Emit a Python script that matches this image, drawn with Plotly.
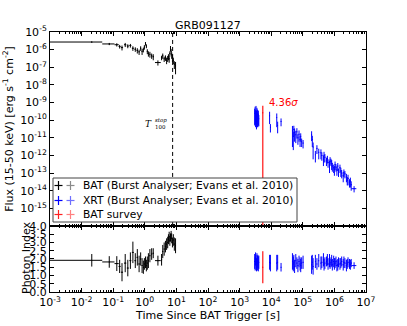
import plotly.graph_objects as go
from plotly.subplots import make_subplots
import math

title_text = "GRB091127"
t100_stop = 7.6
survey_sigma = 4.36

# ---------------- BAT (Burst Analyser) ----------------
bat_t = [0.021, 0.075, 0.13, 0.16, 0.19, 0.24, 0.29, 0.35, 0.42, 0.50,
         0.58, 0.66, 0.74, 0.82, 0.90, 0.97, 1.05, 1.12, 1.20, 1.30,
         1.45, 1.65, 1.85, 2.60, 3.40, 3.70, 4.10, 4.50, 4.90, 5.30,
         5.60, 5.90, 6.20, 6.50, 6.80, 7.10, 7.50, 8.00, 8.60, 9.40]
bat_tm = [0.020, 0.030, 0.02, 0.012, 0.015, 0.02, 0.02, 0.025, 0.03, 0.03,
          0.03, 0.03, 0.03, 0.03, 0.03, 0.03, 0.03, 0.03, 0.04, 0.05,
          0.05, 0.07, 0.08, 0.50, 0.15, 0.12, 0.15, 0.15, 0.15, 0.12,
          0.10, 0.10, 0.10, 0.10, 0.10, 0.10, 0.15, 0.20, 0.25, 0.30]
bat_tp = [0.024, 0.035, 0.02, 0.012, 0.015, 0.02, 0.02, 0.025, 0.03, 0.03,
          0.03, 0.03, 0.03, 0.03, 0.03, 0.03, 0.03, 0.03, 0.04, 0.05,
          0.05, 0.07, 0.08, 0.60, 0.15, 0.12, 0.15, 0.15, 0.15, 0.12,
          0.10, 0.10, 0.10, 0.10, 0.10, 0.10, 0.15, 0.20, 0.25, 0.30]
bat_flux = [2.7e-6, 2.1e-6, 1.9e-6, 1.5e-6, 1.3e-6, 1.9e-6, 1.6e-6, 1.7e-6, 1.2e-6, 1.05e-6,
            9.0e-7, 7.5e-7, 1.2e-6, 8.0e-7, 1.0e-6, 1.4e-6, 2.2e-6, 1.6e-6, 8.0e-7, 6.0e-7,
            5.5e-7, 4.5e-7, 4.0e-7, 1.85e-7, 3.5e-7, 4.5e-7, 3.0e-7, 3.5e-7, 2.5e-7, 3.2e-7,
            4.0e-7, 3.0e-7, 6.0e-7, 1.2e-6, 8.0e-7, 5.0e-7, 3.5e-7, 2.5e-7, 1.5e-7, 1.2e-7]
bat_ferr = [0.25e-6, 0.3e-6, 0.4e-6, 0.35e-6, 0.4e-6, 0.5e-6, 0.4e-6, 0.4e-6, 0.35e-6, 0.3e-6,
            0.3e-6, 0.25e-6, 0.35e-6, 0.3e-6, 0.3e-6, 0.4e-6, 0.5e-6, 0.4e-6, 0.25e-6, 0.2e-6,
            0.2e-6, 0.15e-6, 0.15e-6, 0.06e-6, 0.1e-6, 0.15e-6, 0.1e-6, 0.12e-6, 0.1e-6, 0.12e-6,
            0.15e-6, 0.12e-6, 0.2e-6, 0.4e-6, 0.3e-6, 0.2e-6, 0.15e-6, 0.1e-6, 0.07e-6, 0.08e-6]
bat_idx = [1.92, 1.82, 1.72, 1.55, 1.20, 1.75, 1.45, 1.90, 2.40, 1.90,
           2.10, 1.70, 2.00, 1.60, 1.50, 1.70, 1.80, 1.60, 1.75, 1.90,
           2.20, 2.30, 2.35, 1.90, 1.95, 2.45, 2.60, 2.75, 2.90, 3.00,
           3.20, 3.35, 3.10, 3.30, 3.45, 3.25, 3.00, 3.15, 2.90, 2.80]
bat_idxerr = [0.38, 0.35, 0.45, 0.40, 0.55, 0.55, 0.50, 0.50, 0.65, 0.45,
              0.50, 0.50, 0.40, 0.45, 0.40, 0.35, 0.35, 0.35, 0.40, 0.45,
              0.40, 0.35, 0.30, 0.30, 0.35, 0.40, 0.40, 0.35, 0.35, 0.35,
              0.30, 0.30, 0.30, 0.25, 0.25, 0.30, 0.30, 0.35, 0.40, 0.45]

# ---------------- XRT (Burst Analyser) ----------------
xrt_t = [3000, 3100, 3200, 3310, 3420, 3540, 3660, 3790, 3920, 4060,
         8900, 9450, 15000, 16000, 20500,
         47000, 50000, 52000, 55000, 60000, 65000, 70000, 76000, 82000, 86000,
         92000, 102000, 190000, 200000, 212000, 250000, 280000, 320000,
         375000, 400000, 450000, 470000, 500000, 560000, 600000, 630000, 700000, 730000,
         780000, 820000, 860000, 950000, 1000000, 1050000, 1120000, 1200000, 1280000, 1350000,
         1500000, 1600000, 1700000, 1900000, 2000000, 2150000, 2400000, 2550000, 2700000,
         3000000, 3200000, 3400000, 4200000]
xrt_dt = [50, 50, 50, 55, 55, 60, 60, 65, 65, 70,
          200, 250, 300, 350, 400,
          1200, 1300, 1300, 1500, 1500, 1500, 1800, 2000, 2000, 2200,
          2500, 3000, 4000, 4000, 4000, 6000, 7000, 8000,
          12000, 15000, 15000, 15000, 20000, 20000, 20000, 25000, 25000, 25000,
          30000, 30000, 30000, 35000, 35000, 40000, 40000, 50000, 45000, 50000,
          60000, 60000, 70000, 80000, 80000, 90000, 100000, 100000, 120000,
          130000, 140000, 150000, 750000]
xrt_flux = [2.5e-10, 3.2e-10, 2.0e-10, 3.6e-10, 1.8e-10, 2.8e-10, 2.2e-10, 1.5e-10, 2.0e-10, 1.2e-10,
            1.8e-10, 4.0e-11, 1.4e-10, 5.0e-11, 8.5e-11,
            2.5e-11, 1.2e-11, 3.0e-11, 2.0e-11, 1.5e-11, 2.2e-11, 1.0e-11, 1.6e-11, 8.0e-12, 1.2e-11,
            6.0e-12, 5.0e-12, 1.5e-11, 8.0e-12, 3.0e-12, 1.1e-12, 2.5e-12, 1.5e-12,
            1.4e-12, 1.0e-12, 6.0e-13, 1.0e-12, 8.0e-13, 5.0e-13, 6.5e-13, 4.0e-13, 3.0e-13, 5.5e-13,
            4.5e-13, 3.5e-13, 2.5e-13, 2.0e-13, 1.6e-13, 3.0e-13, 2.2e-13, 1.5e-13, 2.5e-13, 1.2e-13,
            2.0e-13, 1.3e-13, 1.0e-13, 7.0e-14, 1.1e-13, 9.0e-14, 6.0e-14, 4.0e-14, 5.0e-14,
            3.0e-14, 3.5e-14, 2.2e-14, 1.3e-14]
xrt_ferr = [2.0e-10, 2.6e-10, 1.6e-10, 2.8e-10, 1.5e-10, 2.2e-10, 1.8e-10, 1.1e-10, 1.5e-10, 0.75e-10,
            1.2e-10, 2.0e-11, 1.0e-10, 3.2e-11, 4.0e-11,
            2.2e-11, 1.0e-11, 1.8e-11, 1.4e-11, 1.0e-11, 1.3e-11, 0.6e-11, 1.0e-11, 5.0e-12, 0.6e-11,
            3.0e-12, 2.5e-12, 0.85e-11, 5.0e-12, 2.4e-12, 0.7e-12, 1.3e-12, 0.9e-12,
            0.8e-12, 0.5e-12, 3.5e-13, 0.6e-12, 4.0e-13, 2.5e-13, 3.0e-13, 2.0e-13, 2.0e-13, 2.5e-13,
            2.0e-13, 2.0e-13, 1.3e-13, 1.0e-13, 0.9e-13, 1.5e-13, 1.0e-13, 0.8e-13, 1.2e-13, 0.6e-13,
            1.0e-13, 0.7e-13, 0.5e-13, 4.0e-14, 0.5e-13, 4.0e-14, 3.0e-14, 2.0e-14, 3.0e-14,
            1.5e-14, 2.0e-14, 1.2e-14, 0.5e-14]
xrt_idx = [1.85, 1.70, 2.00, 1.80, 1.65, 1.95, 1.75, 1.85, 1.70, 1.80,
           1.80, 1.75, 1.75, 1.80, 1.50,
           1.85, 1.70, 1.80, 1.55, 1.90, 1.75, 1.60, 1.85, 1.70, 1.60,
           1.75, 1.80, 1.65, 1.80, 1.55, 1.85, 1.70, 1.90,
           1.75, 1.80, 1.95, 1.65, 1.75, 1.85, 1.95, 1.70, 1.90, 1.70,
           1.80, 1.90, 1.65, 1.85, 1.70, 1.75, 1.85, 1.60, 1.65, 1.80,
           1.70, 1.75, 1.85, 1.65, 1.80, 1.75, 1.60, 1.70, 1.80,
           1.70, 1.65, 1.75, 1.60]
xrt_idxerr = [0.45, 0.40, 0.40, 0.45, 0.40, 0.40, 0.45, 0.40, 0.45, 0.40,
              0.45, 0.50, 0.50, 0.45, 0.26,
              0.50, 0.45, 0.45, 0.40, 0.40, 0.35, 0.40, 0.35, 0.40, 0.40,
              0.35, 0.40, 0.55, 0.45, 0.50, 0.40, 0.35, 0.40,
              0.40, 0.35, 0.40, 0.35, 0.35, 0.30, 0.35, 0.35, 0.40, 0.30,
              0.30, 0.35, 0.35, 0.35, 0.35, 0.30, 0.30, 0.35, 0.35, 0.30,
              0.35, 0.30, 0.30, 0.35, 0.35, 0.30, 0.35, 0.30, 0.30,
              0.30, 0.30, 0.25, 0.20]

# ---------------- BAT survey ----------------
survey_t = [5400]
survey_dt = [150]
survey_flux = [2.6e-10]
survey_ferr = [4.0e-10]
survey_idx = [1.5]
survey_idxerr = [0.97]

legend_labels = ["BAT (Burst Analyser; Evans et al. 2010)",
                 "XRT (Burst Analyser; Evans et al. 2010)",
                 "BAT survey"]

x_exps = list(range(-3, 8))
ytop_exps = list(range(-15, -4))
ybot_vals = [0.0, 0.5, 1.0, 1.5, 2.0, 2.5, 3.0, 3.5, 4.0]

FONT = "DejaVu Sans"
BLACK = "black"
BLUE = "#0000ff"
RED = "rgba(255,0,0,0.75)"

fig = make_subplots(rows=2, cols=1, shared_xaxes=True, vertical_spacing=0,
                    row_heights=[0.746, 0.254])


def add_err(row, x, xm, xp, y, ym, yp, color):
    fig.add_trace(go.Scatter(
        x=x, y=y, mode="markers",
        marker=dict(size=1, color=color),
        error_x=dict(type="data", array=xp, arrayminus=xm, symmetric=False,
                     color=color, thickness=1, width=0),
        error_y=dict(type="data", array=yp, arrayminus=ym, symmetric=False,
                     color=color, thickness=1, width=0),
        showlegend=False, hoverinfo="skip"), row=row, col=1)


# top: flux
add_err(1, bat_t, bat_tm, bat_tp, bat_flux, bat_ferr, bat_ferr, BLACK)
add_err(1, xrt_t, xrt_dt, xrt_dt, xrt_flux, xrt_ferr, xrt_ferr, BLUE)
fig.add_trace(go.Scatter(
    x=survey_t, y=survey_flux, mode="markers", marker=dict(size=1, color=RED),
    error_x=dict(type="data", array=survey_dt, color=RED, thickness=1.5, width=0),
    error_y=dict(type="data", array=survey_ferr, color=RED, thickness=1.5, width=0),
    showlegend=False, hoverinfo="skip"), row=1, col=1)

# T100 stop dashed line
fig.add_trace(go.Scatter(x=[t100_stop, t100_stop], y=[1e-16, 1e-5], mode="lines",
                         line=dict(color="black", width=1, dash="4px,3px"),
                         showlegend=False, hoverinfo="skip"), row=1, col=1)

# bottom: photon index
add_err(2, bat_t, bat_tm, bat_tp, bat_idx, bat_idxerr, bat_idxerr, BLACK)
add_err(2, xrt_t, xrt_dt, xrt_dt, xrt_idx, xrt_idxerr, xrt_idxerr, BLUE)
fig.add_trace(go.Scatter(
    x=survey_t, y=survey_idx, mode="markers", marker=dict(size=1, color=RED),
    error_x=dict(type="data", array=survey_dt, color=RED, thickness=1.5, width=0),
    error_y=dict(type="data", array=survey_idxerr, color=RED, thickness=1.5, width=0),
    showlegend=False, hoverinfo="skip"), row=2, col=1)

# axes
axis_common = dict(showline=True, linecolor="black", linewidth=1, mirror="ticks",
                   ticks="inside", ticklen=4, tickcolor="black", showgrid=False,
                   zeroline=False, automargin=False, tickangle=0,
                   tickfont=dict(family=FONT, size=11, color="black"))
fig.update_xaxes(type="log", range=[-3, 7], tickmode="array",
                 tickvals=[10.0 ** e for e in x_exps],
                 ticktext=["10<sup>%d</sup>" % e for e in x_exps],
                 minor=dict(ticks="inside", ticklen=2, tickcolor="black", dtick="D1",
                            showgrid=False),
                 **axis_common)
fig.update_xaxes(title=dict(text="Time Since BAT Trigger [s]",
                            font=dict(family=FONT, size=11, color="black"), standoff=2),
                 row=2, col=1)

fig.update_yaxes(type="log", range=[-16, -5], tickmode="array",
                 tickvals=[10.0 ** e for e in ytop_exps],
                 ticktext=["10<sup>%d</sup>" % e for e in ytop_exps],
                 title=dict(text="Flux (15-50 keV) [erg s<sup>-1</sup> cm<sup>-2</sup>]",
                            font=dict(family=FONT, size=11, color="black"), standoff=4),
                 row=1, col=1, **axis_common)
fig.update_yaxes(range=[0, 4], tickmode="array", tickvals=ybot_vals,
                 ticktext=["%.1f" % v for v in ybot_vals],
                 row=2, col=1, **axis_common)

# pixel -> paper helpers
X0, X1, Y0, Y1 = 50, 366, 32, 292


def pxx(p):
    return (p - X0) / (X1 - X0)


def pxy(p):
    return (Y1 - p) / (Y1 - Y0)


shapes = []
annotations = []

# legend box
shapes.append(dict(type="rect", xref="paper", yref="paper",
                   x0=pxx(53), x1=pxx(297), y0=pxy(222), y1=pxy(178),
                   line=dict(color="#444444", width=1), fillcolor="white", layer="above"))
rows_y = [185.5, 200.5, 214.5]
cross_cols = [(BLACK, "#8a8a8a"), (BLUE, "#6f6fff"), ("#ff2020", "#ff8080")]
for ry, cols, lab in zip(rows_y, cross_cols, legend_labels):
    for cx, c in zip([58.5, 70.5], cols):
        shapes.append(dict(type="line", xref="paper", yref="paper",
                           x0=pxx(cx - 4), x1=pxx(cx + 4), y0=pxy(ry), y1=pxy(ry),
                           line=dict(color=c, width=1.2), layer="above"))
        shapes.append(dict(type="line", xref="paper", yref="paper",
                           x0=pxx(cx), x1=pxx(cx), y0=pxy(ry - 4.5), y1=pxy(ry + 4.5),
                           line=dict(color=c, width=1.2), layer="above"))
    annotations.append(dict(text=lab, xref="paper", yref="paper", x=pxx(81), y=pxy(ry),
                            xanchor="left", yanchor="middle", showarrow=False,
                            font=dict(family=FONT, size=10.7, color="black")))

# title
annotations.append(dict(text=title_text, xref="paper", yref="paper", x=0.5, y=1,
                        xanchor="center", yanchor="bottom", showarrow=False, yshift=-2,
                        font=dict(family=FONT, size=11, color="black")))

# photon index axis title
annotations.append(dict(text="Photon Index", xref="paper", yref="paper",
                        x=pxx(26), y=pxy(258), xanchor="center", yanchor="middle",
                        textangle=-90, showarrow=False,
                        font=dict(family=FONT, size=11, color="black")))

# T100 label
annotations.append(dict(text="<i>T</i>", xref="paper", yref="paper", x=pxx(153.5), y=pxy(124),
                        xanchor="right", yanchor="middle", showarrow=False,
                        font=dict(family="DejaVu Serif", size=9, color="black")))
annotations.append(dict(text="<i>stop</i>", xref="paper", yref="paper", x=pxx(153), y=pxy(120),
                        xanchor="left", yanchor="middle", showarrow=False,
                        font=dict(family="DejaVu Serif", size=5.5, color="black")))
annotations.append(dict(text="100", xref="paper", yref="paper", x=pxx(153), y=pxy(126.5),
                        xanchor="left", yanchor="middle", showarrow=False,
                        font=dict(family="DejaVu Serif", size=5.5, color="black")))

# survey significance label
annotations.append(dict(text="%.2f<i>σ</i>" % survey_sigma, xref="x", yref="y",
                        x=math.log10(survey_t[0]),
                        y=math.log10(survey_flux[0] + survey_ferr[0]),
                        xanchor="left", yanchor="middle", xshift=4, yshift=3,
                        showarrow=False, font=dict(family=FONT, size=10, color="red")))

fig.update_layout(width=407, height=326, margin=dict(l=50, r=41, t=32, b=34, autoexpand=False),
                  paper_bgcolor="white", plot_bgcolor="white", showlegend=False,
                  shapes=shapes, annotations=annotations,
                  font=dict(family=FONT, size=11, color="black"))

fig.write_html("out.html", config={"displayModeBar": False},
               post_script="document.body.style.margin='0';document.body.style.padding='0';")
